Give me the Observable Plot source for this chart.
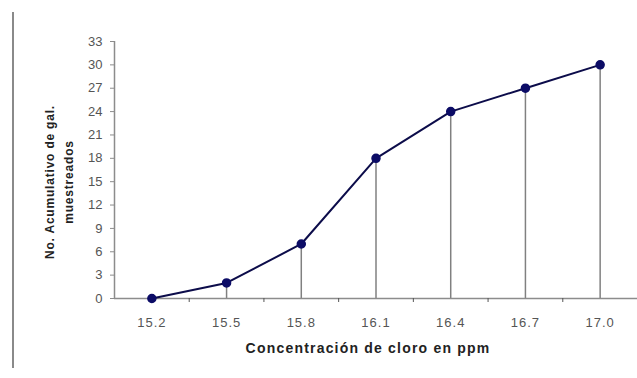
<!DOCTYPE html>
<html>
<head>
<meta charset="utf-8">
<script src="https://cdn.jsdelivr.net/npm/d3@7"></script>
<script src="https://cdn.jsdelivr.net/npm/@observablehq/plot@0.6"></script>
<style>
  html, body { margin: 0; padding: 0; background: #fff; }
  #wrap { position: relative; width: 637px; height: 378px; }
  #border { position: absolute; left: 12px; top: 12px; width: 2px; height: 356px; background: #8a8a8a; }
  g[aria-label="x-axis tick label"] text { letter-spacing: 1px; }
  g.xtitle text { letter-spacing: 1.2px; }
  g.ytitle text { letter-spacing: 0.8px; }
</style>
</head>
<body>
<div id="wrap"><div id="border"></div></div>
<script>
const concentracion = ["15.2", "15.5", "15.8", "16.1", "16.4", "16.7", "17.0"];
const acumulado = [0, 2, 7, 18, 24, 27, 30];
const yTicks = [0, 3, 6, 9, 12, 15, 18, 21, 24, 27, 30, 33];
const xTitle = "Concentración de cloro en ppm";
const yTitle = "No. Acumulativo de gal.\nmuestreados";

const xs = concentracion.map(Number);
const data = xs.map((x, i) => ({x, y: acumulado[i]}));
const step = xs[1] - xs[0];
const lo = xs[0] - step / 2, hi = xs[xs.length - 1] + step / 2;
const bounds = xs.map(x => x + step / 2);

const chart = Plot.plot({
  width: 637,
  height: 378,
  marginLeft: 114,
  marginRight: 0,
  marginTop: 41,
  marginBottom: 80,
  style: {fontFamily: "'Liberation Sans', Arial, sans-serif", fontSize: "13px", color: "#444", background: "transparent"},
  x: {domain: [lo, hi]},
  y: {domain: [0, 33]},
  marks: [
    Plot.ruleX(data, {x: "x", y1: 0, y2: "y", stroke: "#808080", strokeWidth: 1.5}),
    Plot.ruleY([0], {stroke: "#8c8c8c", strokeWidth: 1.5}),
    Plot.ruleX([lo], {y1: 0, y2: 33, stroke: "#8c8c8c", strokeWidth: 1.5}),
    Plot.axisY({ticks: yTicks, tickSize: 4, tickPadding: 8, label: null, stroke: "#8c8c8c", fill: "#555"}),
    Plot.axisX({ticks: bounds, tickSize: 4, tickFormat: () => "", label: null, stroke: "#555"}),
    Plot.axisX({ticks: xs, tickSize: 0, tickPadding: 19, tickFormat: d => d.toFixed(1), label: null, fill: "#555"}),
    Plot.line(data, {x: "x", y: "y", stroke: "#0c0c4a", strokeWidth: 2}),
    Plot.dot(data, {x: "x", y: "y", r: 4, fill: "#0c0c66", stroke: "#0c0c66"}),
    Plot.text([yTitle], {className: "ytitle", frameAnchor: "left", dx: -57, dy: 12, rotate: -90, lineAnchor: "middle", textAnchor: "middle", lineHeight: 1.55, fontWeight: "bold", fontSize: 12, fill: "#222"}),
    Plot.text([xTitle], {className: "xtitle", frameAnchor: "bottom", dy: 54, dx: -8, textAnchor: "middle", fontWeight: "bold", fontSize: 14, fill: "#222"})
  ]
});
document.getElementById("wrap").appendChild(chart);
chart.style.position = "absolute";
chart.style.left = "0";
chart.style.top = "0";
</script>
</body>
</html>
